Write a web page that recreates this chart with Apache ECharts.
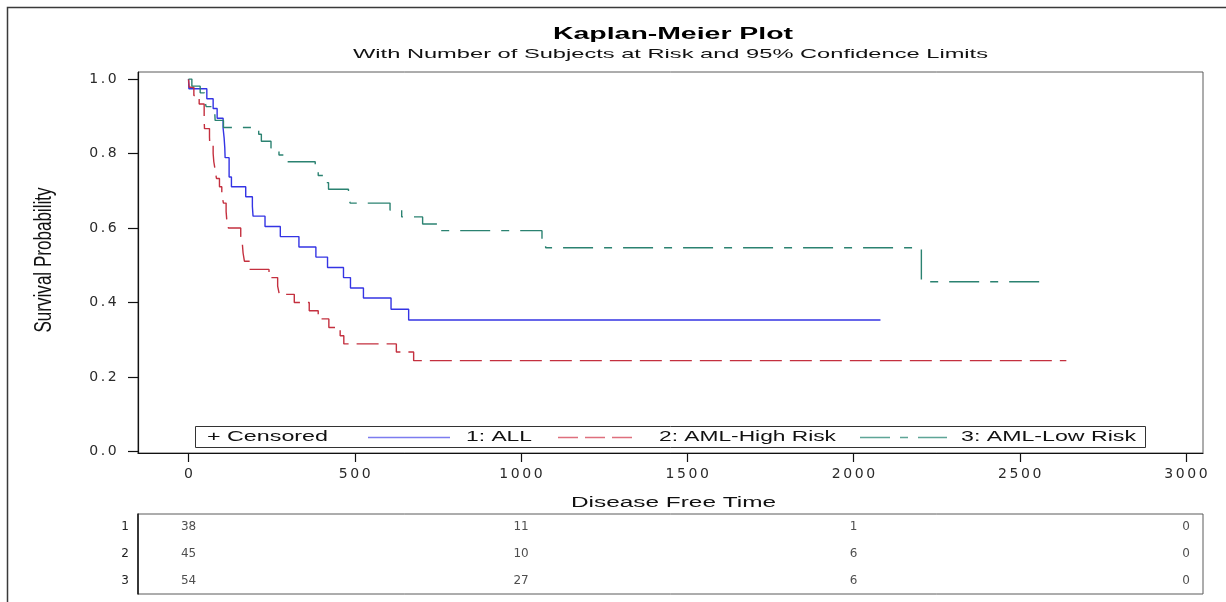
<!DOCTYPE html>
<html>
<head>
<meta charset="utf-8">
<script src="https://cdn.jsdelivr.net/npm/echarts@6/dist/echarts.min.js"></script>
<style>
html,body{margin:0;padding:0;background:#fff;}
#chart{width:1226px;height:602px;}
</style>
</head>
<body>
<div id="chart"></div>
<script>
// ---------- data ----------
const allTimes  = [0, 1, 55, 74, 86, 104, 107, 109, 110, 122, 129, 172, 192, 194, 230, 276, 332, 383, 418, 466, 487, 526, 609, 662, 2081];
const allSurv   = [1.0, 0.974, 0.947, 0.921, 0.895, 0.868, 0.842, 0.816, 0.789, 0.737, 0.711, 0.684, 0.658, 0.632, 0.604, 0.577, 0.549, 0.522, 0.494, 0.467, 0.439, 0.412, 0.382, 0.353, 0.353];
const highTimes = [0, 2, 16, 32, 47, 48, 63, 64, 74, 76, 80, 84, 93, 100, 105, 113, 115, 120, 157, 162, 164, 168, 183, 242, 268, 273, 318, 363, 390, 422, 456, 467, 625, 677, 2640];
const highSurv  = [1.0, 0.978, 0.956, 0.933, 0.889, 0.867, 0.844, 0.822, 0.800, 0.778, 0.756, 0.733, 0.711, 0.689, 0.667, 0.644, 0.622, 0.600, 0.578, 0.556, 0.533, 0.511, 0.489, 0.467, 0.444, 0.422, 0.400, 0.378, 0.356, 0.333, 0.311, 0.289, 0.267, 0.244, 0.244];
const lowTimes  = [0, 10, 35, 48, 53, 79, 80, 105, 211, 219, 248, 272, 288, 381, 390, 414, 421, 481, 486, 606, 641, 704, 748, 1063, 1074, 2204, 2569];
const lowSurv   = [1.0, 0.981, 0.963, 0.944, 0.926, 0.907, 0.889, 0.870, 0.852, 0.833, 0.815, 0.796, 0.778, 0.759, 0.741, 0.722, 0.704, 0.685, 0.667, 0.648, 0.630, 0.611, 0.593, 0.570, 0.547, 0.456, 0.456];

const seriesNames = ['1: ALL', '2: AML-High Risk', '3: AML-Low Risk'];
const riskRows  = ['1', '2', '3'];
const riskTimes = [0, 1000, 2000, 3000];
const riskAll   = [38, 11, 1, 0];
const riskHigh  = [45, 10, 6, 0];
const riskLow   = [54, 27, 6, 0];

const xTickValues = [0, 500, 1000, 1500, 2000, 2500, 3000];
const yTickValues = [0.0, 0.2, 0.4, 0.6, 0.8, 1.0];

const titleText = 'Kaplan-Meier Plot';
const subtitleText = 'With Number of Subjects at Risk and 95% Confidence Limits';
const xName = 'Disease Free Time';
const yName = 'Survival Probability';
const censoredText = '+ Censored';

// ---------- helpers ----------
const FONT = '"Liberation Sans", Arial, sans-serif';
const mctx = document.createElement('canvas').getContext('2d');
function fit(text, font, target) {
  mctx.font = font;
  return target / mctx.measureText(text).width;
}
function pairs(ts, ss) { return ts.map((t, i) => [t, ss[i]]); }
function spaced(str) {
  return str.split('').map(c => c === '.' ? '{p|.}' : '{d|' + c + '}').join('');
}
const tickRich = {
  d: {width: 11.5, align: 'center', fontSize: 14, fontFamily: 'DejaVu Sans', color: '#2a2a2a'},
  p: {width: 7, align: 'center', fontSize: 14, fontFamily: 'DejaVu Sans', color: '#2a2a2a'}
};

const colors = {all: '#3434e4', high: '#c4303f', low: '#2b8271'};
const dashHigh = [22, 8];
const dashLow = [30, 11, 8, 11];

function textEl(text, x, y, font, target, extra) {
  const s = fit(text, font, target);
  return Object.assign({
    type: 'text', x: x, y: y, scaleX: s, silent: true,
    style: {text: text, font: font, fill: '#111', textAlign: 'left', textVerticalAlign: 'middle'}
  }, extra || {});
}

const chart = echarts.init(document.getElementById('chart'), null, {renderer: 'canvas'});

const titleFont = 'bold 16px ' + FONT;
const subFont = '13px ' + FONT;
const nameFont = '14px ' + FONT;
const legFont = '14px ' + FONT;
const yNameFont = '15px ' + FONT;

const graphics = [
  // outer frame
  {type: 'polyline', silent: true, shape: {points: [[7.5, 602], [7.5, 7.5], [1226, 7.5]]},
   style: {stroke: '#3a3a3a', lineWidth: 1.5, fill: null}},
  // title & subtitle
  {type: 'text', x: 673, y: 35, scaleX: fit(titleText, titleFont, 240), silent: true,
   style: {text: titleText, font: titleFont, fill: '#000', textAlign: 'center', textVerticalAlign: 'middle'}},
  {type: 'text', x: 670.5, y: 54, scaleX: fit(subtitleText, subFont, 635), silent: true,
   style: {text: subtitleText, font: subFont, fill: '#111', textAlign: 'center', textVerticalAlign: 'middle'}},
  // axis names
  {type: 'text', x: 673.5, y: 503, scaleX: fit(xName, nameFont, 205), silent: true,
   style: {text: xName, font: nameFont, fill: '#111', textAlign: 'center', textVerticalAlign: 'middle'}},
  {type: 'text', x: 44, y: 260, rotation: Math.PI / 2, scaleX: fit(yName, yNameFont, 145), scaleY: 1.6, silent: true,
   style: {text: yName, font: yNameFont, fill: '#111', textAlign: 'center', textVerticalAlign: 'middle'}},
  // legend box
  {type: 'rect', silent: true, shape: {x: 195.5, y: 426.5, width: 950, height: 21},
   style: {stroke: '#333', lineWidth: 1, fill: '#fff'}},
  textEl(censoredText, 207, 437.5, legFont, 121),
  {type: 'line', silent: true, shape: {x1: 368, y1: 437.5, x2: 450, y2: 437.5},
   style: {stroke: '#7c7cef', lineWidth: 1.3}},
  textEl(seriesNames[0], 466, 437.5, legFont, 66),
  {type: 'line', silent: true, shape: {x1: 558, y1: 437.5, x2: 632, y2: 437.5},
   style: {stroke: '#de6f7d', lineWidth: 1.3, lineDash: [20, 7]}},
  textEl(seriesNames[1], 659, 437.5, legFont, 177),
  {type: 'line', silent: true, shape: {x1: 860, y1: 437.5, x2: 947, y2: 437.5},
   style: {stroke: '#5ea596', lineWidth: 1.3, lineDash: [30, 10, 8, 10]}},
  textEl(seriesNames[2], 961, 437.5, legFont, 175)
];

function riskSeries(vals, row) {
  return {
    type: 'scatter', xAxisIndex: 1, yAxisIndex: 1, silent: true,
    symbolSize: 1, itemStyle: {color: 'rgba(0,0,0,0)'},
    label: {show: true, position: 'inside', formatter: p => String(p.value[2]),
            fontSize: 12, fontFamily: 'DejaVu Sans', color: '#222'},
    data: riskTimes.map((t, i) => [t, row, vals[i]])
  };
}

const option = {
  animation: false,
  backgroundColor: '#ffffff',
  grid: [
    {left: 138, right: 23, top: 72, bottom: 149, show: true, borderColor: '#5a5a5a', borderWidth: 1},
    {left: 138, right: 23, top: 514, bottom: 8, show: true, borderColor: '#5a5a5a', borderWidth: 1}
  ],
  xAxis: [
    {gridIndex: 0, type: 'value', min: -152, max: 3051,
     axisLine: {show: true, onZero: false, lineStyle: {color: '#111', width: 1.2}},
     axisTick: {show: true, length: 9, customValues: xTickValues, lineStyle: {color: '#111', width: 1.2}},
     axisLabel: {show: true, customValues: xTickValues, margin: 14, formatter: v => spaced(String(v)), rich: tickRich},
     splitLine: {show: false}},
    {gridIndex: 1, type: 'value', min: -152, max: 3051, show: false}
  ],
  yAxis: [
    {gridIndex: 0, type: 'value', min: -0.004, max: 1.019,
     axisLine: {show: true, onZero: false, lineStyle: {color: '#111', width: 1.2}},
     axisTick: {show: true, length: 10, customValues: yTickValues, lineStyle: {color: '#111', width: 1.2}},
     axisLabel: {show: true, customValues: yTickValues, margin: 20, formatter: v => spaced(v.toFixed(1)), rich: tickRich},
     splitLine: {show: false}},
    {gridIndex: 1, type: 'category', data: riskRows, inverse: true,
     axisLine: {show: true, onZero: false, lineStyle: {color: '#111', width: 1.5}},
     axisTick: {show: false},
     axisLabel: {margin: 9, fontSize: 12, fontFamily: 'DejaVu Sans', color: '#222'},
     splitLine: {show: false}}
  ],
  series: [
    {name: seriesNames[0], type: 'line', step: 'end', symbol: 'none', xAxisIndex: 0, yAxisIndex: 0,
     lineStyle: {color: colors.all, width: 1.4, type: 'solid'}, data: pairs(allTimes, allSurv)},
    {name: seriesNames[1], type: 'line', step: 'end', symbol: 'none', xAxisIndex: 0, yAxisIndex: 0,
     lineStyle: {color: colors.high, width: 1.4, type: dashHigh}, data: pairs(highTimes, highSurv)},
    {name: seriesNames[2], type: 'line', step: 'end', symbol: 'none', xAxisIndex: 0, yAxisIndex: 0,
     lineStyle: {color: colors.low, width: 1.4, type: dashLow}, data: pairs(lowTimes, lowSurv)},
    riskSeries(riskAll, 0),
    riskSeries(riskHigh, 1),
    riskSeries(riskLow, 2)
  ],
  graphic: graphics
};
chart.setOption(option);
</script>
</body>
</html>
